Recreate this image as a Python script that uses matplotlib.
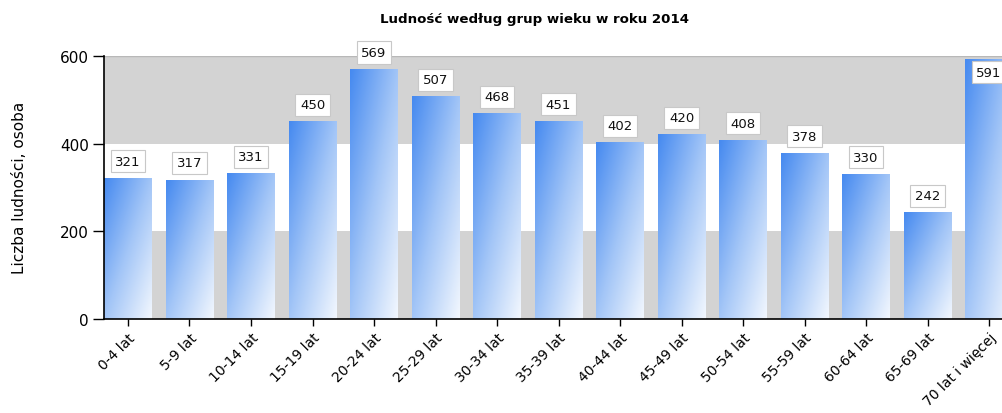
import numpy as np
import matplotlib
matplotlib.use("Agg")
import matplotlib.pyplot as plt
from matplotlib.colors import LinearSegmentedColormap

groups = ["0-4 lat", "5-9 lat", "10-14 lat", "15-19 lat", "20-24 lat", "25-29 lat",
          "30-34 lat", "35-39 lat", "40-44 lat", "45-49 lat", "50-54 lat", "55-59 lat",
          "60-64 lat", "65-69 lat", "70 lat i więcej"]
population = [321, 317, 331, 450, 569, 507, 468, 451, 402, 420, 408, 378, 330, 242, 591]
yticks = [0, 200, 400, 600]

title = "Ludność według grup wieku w roku 2014"
ylabel = "Liczba ludności, osoba"

fig = plt.figure(figsize=(10.02, 4.14), dpi=100)
ax = fig.add_axes([104 / 1002, 1 - 320 / 414, 1 - 104 / 1002, (320 - 57) / 414])

# alternating background bands
ax.axhspan(0, 200, color="#d3d3d3", zorder=0, lw=0)
ax.axhspan(400, 600, color="#d3d3d3", zorder=0, lw=0)
ax.axhline(600, color="#b8b8b8", lw=1.0, zorder=1)

# diagonal blue gradient for every bar
cmap = LinearSegmentedColormap.from_list("bars", ["#468af0", "#a2c5f7", "#f2f7fe"])
n = 60
u = np.linspace(0, 1, n)
grad = 0.5 * (u[None, :] + u[:, None])

width = 0.78
x = np.arange(len(groups))
for xi, v in zip(x, population):
    ax.imshow(grad, cmap=cmap, extent=(xi - width / 2, xi + width / 2, 0, v),
              aspect="auto", origin="upper", zorder=2, interpolation="bilinear")
    ly = v + 39 if v + 39 < 625 else v - 28
    ax.text(xi, ly, str(v), ha="center", va="center", fontsize=9.5, zorder=5,
            clip_on=False, color="#111111",
            bbox=dict(boxstyle="square,pad=0.35", fc="white", ec="#c8c8c8", lw=0.8))

ax.set_xlim(-0.39, 14.21)
ax.set_ylim(0, 600)

ax.set_yticks(yticks)
ax.set_yticklabels([str(t) for t in yticks], fontsize=11)
ax.set_xticks(x)
ax.set_xticklabels(groups, rotation=45, ha="right", rotation_mode="anchor", fontsize=10)

ax.tick_params(axis="y", length=8, width=1.0, pad=3)
ax.tick_params(axis="x", length=5, width=1.0, pad=3)

for s in ["top", "right"]:
    ax.spines[s].set_visible(False)
ax.spines["left"].set_linewidth(1.2)
ax.spines["bottom"].set_linewidth(1.2)
ax.spines["left"].set_zorder(6)
ax.spines["bottom"].set_zorder(6)

fig.text(534 / 1002, 1 - 20 / 414, title, ha="center", va="center",
         fontsize=9.6, fontweight="bold")
fig.text(20 / 1002, 1 - 188 / 414, ylabel, ha="center", va="center",
         rotation=90, fontsize=11)

fig.savefig("out.png", dpi=100)
